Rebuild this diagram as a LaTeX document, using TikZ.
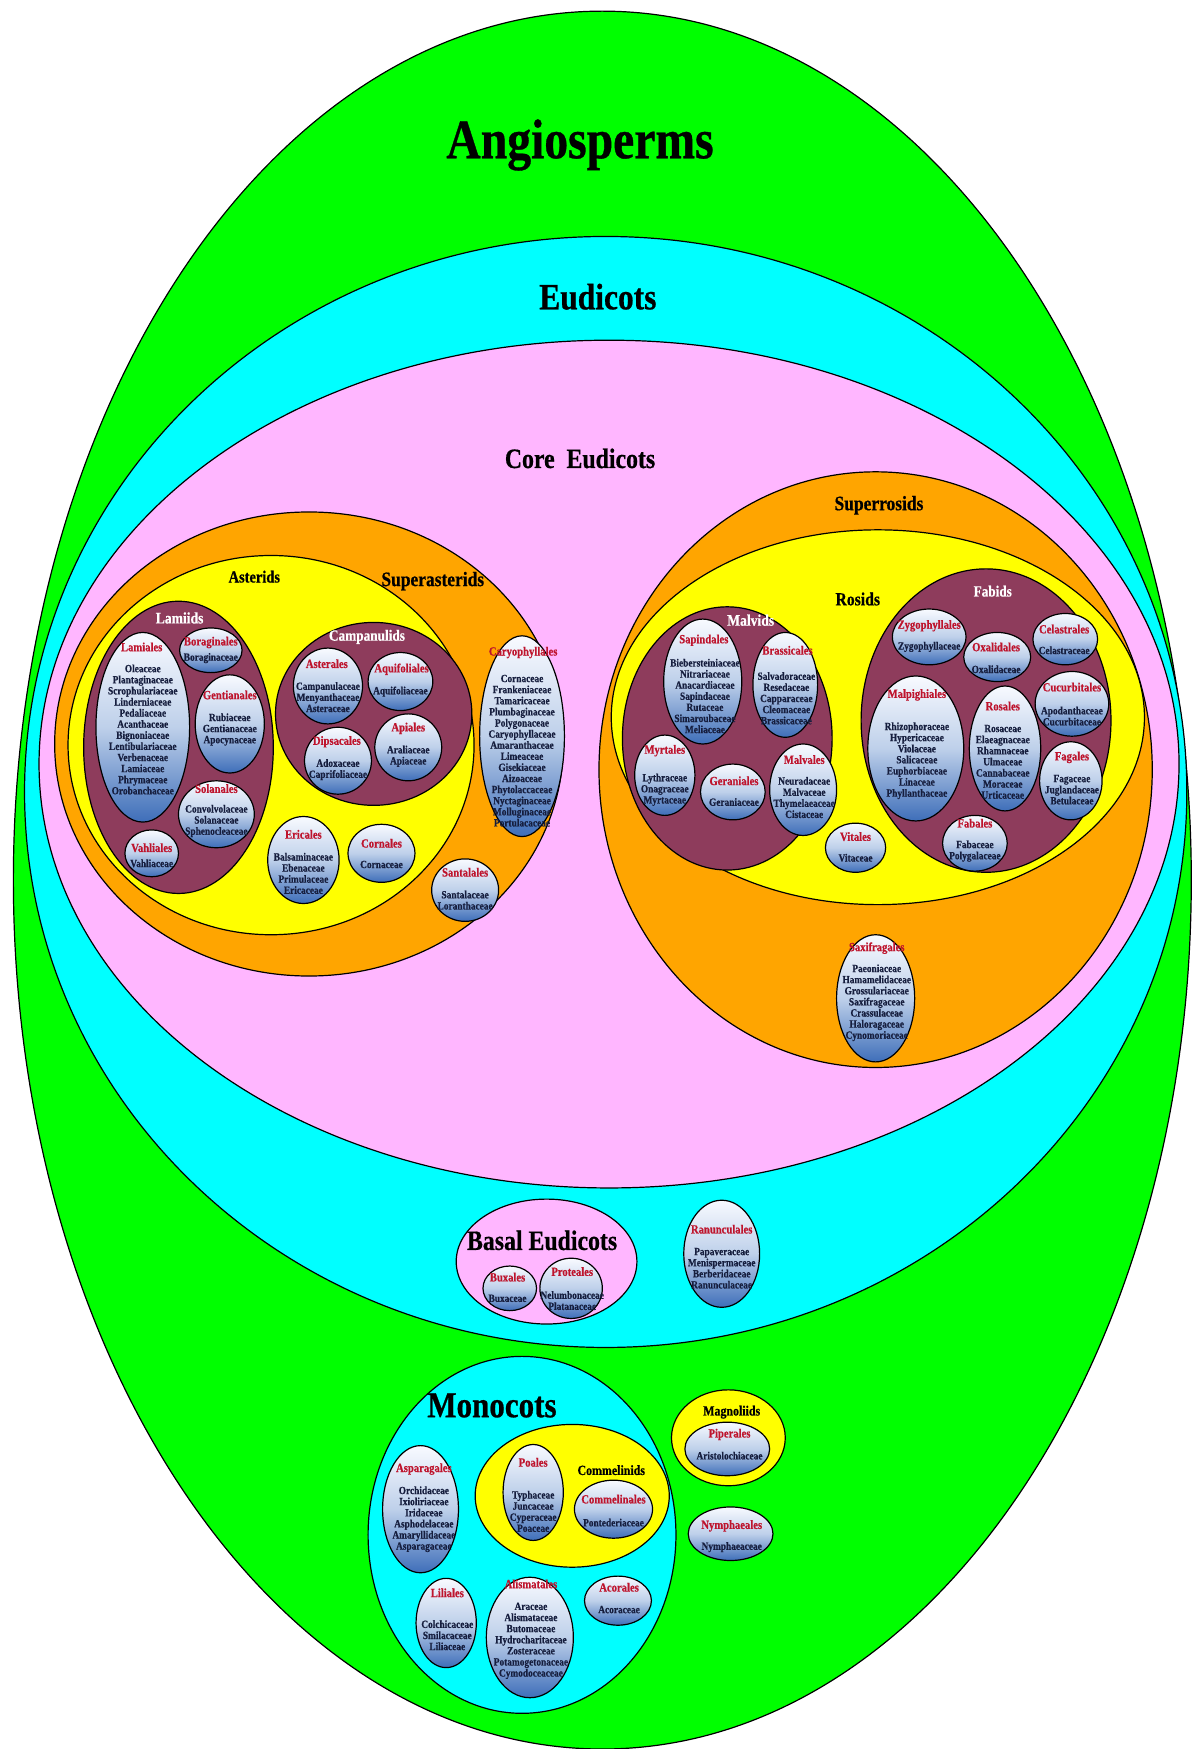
\documentclass[tikz,border=0pt]{standalone}
\usepackage{fontspec}
\newfontfamily\cf{Liberation Serif}[FakeStretch=0.85, BoldFeatures={FakeBold=0.6}]
\usetikzlibrary{shapes.geometric}
\definecolor{gA}{RGB}{0,255,0}
\definecolor{cA}{RGB}{0,255,255}
\definecolor{pA}{RGB}{255,182,255}
\definecolor{oA}{RGB}{255,165,0}
\definecolor{yA}{RGB}{255,255,0}
\definecolor{mA}{RGB}{142,60,92}
\definecolor{redA}{RGB}{190,20,45}
\definecolor{navyA}{RGB}{22,30,62}
\definecolor{shT}{RGB}{248,250,255}
\definecolor{shM}{RGB}{190,208,234}
\definecolor{shB}{RGB}{62,110,185}
\tikzset{
  grp/.style={ellipse, draw=black, line width=1.2pt, inner sep=0pt, outer sep=0pt},
  ov/.style 2 args={minimum width=#1*2.22984pt, minimum height=#2*2.22984pt},
  ord/.style={ellipse, draw=black, line width=1.2pt, inner sep=0pt, outer sep=0pt,
              top color=shT, bottom color=shB, middle color=shM},
  oname/.style={text=redA, font=\cf\bfseries\fontsize{12.5}{13}\selectfont, inner sep=0pt},
  fam/.style={text=navyA, font=\cf\bfseries\fontsize{11}{11.1}\selectfont, align=center, inner sep=0pt},
  lab/.style={inner sep=0pt, font=\cf\bfseries\fontsize{#1}{#1}\selectfont},
}
\begin{document}
\begin{tikzpicture}[x=1.11492pt, y=-1.11492pt]
\path[fill=white, use as bounding box] (0,0) rectangle (1079,1568);
% big groups
\node[grp, fill=gA, ov={528}{779}] (angio) at (540,789) {};
\node[grp, fill=cA, ov={521}{498}] (eud) at (543,710) {};
\node[grp, fill=pA, ov={511}{380}] (core) at (546,685) {};
\node[grp, fill=oA, ov={228}{208}] (supast) at (277,667) {};
\node[grp, fill=yA, ov={182}{170}] (ast) at (243,668) {};
\node[grp, fill=mA, ov={85}{131}] (lamiids) at (160,670) {};
\node[grp, fill=mA, ov={88}{82}] (campan) at (335,640) {};
\node[grp, fill=oA, ov={248}{267}] (supros) at (785,690) {};
\node[grp, fill=yA, ov={239}{168}] (rosids) at (787,643) {};
\node[grp, fill=mA, ov={94}{118}] (malvids) at (652,662) {};
\node[grp, fill=mA, ov={112}{136}] (fabids) at (884,646) {};
\node[grp, fill=pA, ov={81}{56}] (basal) at (490,1131) {};
\node[grp, fill=cA, ov={138}{160}] (mono) at (468,1376) {};
\node[grp, fill=yA, ov={87}{64}] (commel) at (513,1341) {};
\node[grp, fill=yA, ov={51}{43}] (magn) at (653,1289) {};
% group labels
\node[lab=56] (tAngio) at (520,130) {Angiosperms};
\node[lab=37] (tEud) at (536,266) {Eudicots};
\node[lab=28] (tCore) at (520,411) {Core\ \ Eudicots};
\node[lab=20.5] (tSupast) at (388,521) {Superasterids};
\node[lab=17] (tAst) at (228,517) {Asterids};
\node[lab=20.5] (tSupros) at (788,453) {Superrosids};
\node[lab=18.5] (tRos) at (769,537) {Rosids};
\node[lab=16, text=white] (tLam) at (161,554) {Lamiids};
\node[lab=15.6, text=white] (tCamp) at (329,571) {Campanulids};
\node[lab=16, text=white] (tMalv) at (673,556) {Malvids};
\node[lab=15.5, text=white] (tFab) at (890,530) {Fabids};
\node[lab=28] (tBasal) at (486,1112) {Basal Eudicots};
\node[lab=36.5] (tMono) at (441,1260) {Monocots};
\node[lab=14] (tComm) at (548,1318) {Commelinids};
\node[lab=14] (tMagn) at (656,1266) {Magnoliids};
% Lamiids orders
\node[ord, ov={42}{85}] (lamE) at (128,652) {};
\node[oname] (lamN) at (127,580) {Lamiales};
\node[fam] (lamF) at (128,654) {Oleaceae\\Plantaginaceae\\Scrophulariaceae\\Linderniaceae\\Pedaliaceae\\Acanthaceae\\Bignoniaceae\\Lentibulariaceae\\Verbenaceae\\Lamiaceae\\Phrymaceae\\Orobanchaceae};
\node[ord, ov={28}{20}] (borE) at (189,583) {};
\node[oname] (borN) at (189,576) {Boraginales};
\node[fam] (borF) at (189,590) {Boraginaceae};
\node[ord, ov={31}{44}] (genE) at (206,649) {};
\node[oname] (genN) at (206,623) {Gentianales};
\node[fam] (genF) at (206,654) {Rubiaceae\\Gentianaceae\\Apocynaceae};
\node[ord, ov={34}{30}] (solE) at (194,730) {};
\node[oname] (solN) at (194,707) {Solanales};
\node[fam] (solF) at (194,736) {Convolvolaceae\\Solanaceae\\Sphenocleaceae};
\node[ord, ov={24}{21}] (vahE) at (136,765) {};
\node[oname] (vahN) at (136,760) {Vahliales};
\node[fam] (vahF) at (136,774) {Vahliaceae};
% Campanulids orders
\node[ord, ov={31}{34}] (astE) at (294,615) {};
\node[oname] (astN) at (293,595) {Asterales};
\node[fam] (astF) at (294,625) {Campanulaceae\\Menyanthaceae\\Asteraceae};
\node[ord, ov={29}{26}] (aquE) at (359,611) {};
\node[oname] (aquN) at (360,600) {Aquifoliales};
\node[fam] (aquF) at (359,620) {Aquifoliaceae};
\node[ord, ov={30}{30}] (dipE) at (303,682) {};
\node[oname] (dipN) at (302,665) {Dipsacales};
\node[fam] (dipF) at (303,690) {Adoxaceae\\Caprifoliaceae};
\node[ord, ov={30}{30}] (apiE) at (366,670) {};
\node[oname] (apiN) at (366,653) {Apiales};
\node[fam] (apiF) at (366,678) {Araliaceae\\Apiaceae};
% other asterid orders
\node[ord, ov={32}{39}] (eriE) at (272,771) {};
\node[oname] (eriN) at (272,748) {Ericales};
\node[fam] (eriF) at (272,783) {Balsaminaceae\\Ebenaceae\\Primulaceae\\Ericaceae};
\node[ord, ov={30}{26}] (corE) at (342,765) {};
\node[oname] (corN) at (342,756) {Cornales};
\node[fam] (corF) at (342,775) {Cornaceae};
\node[ord, ov={30}{28}] (sanE) at (417,798) {};
\node[oname] (sanN) at (417,782) {Santalales};
\node[fam] (sanF) at (417,807) {Santalaceae\\Loranthaceae};
\node[ord, ov={38}{90}] (carE) at (468,660) {};
\node[oname] (carN) at (469,585) {Caryophyllales};
\node[fam] (carF) at (468,673) {Cornaceae\\Frankeniaceae\\Tamaricaceae\\Plumbaginaceae\\Polygonaceae\\Caryophyllaceae\\Amaranthaceae\\Limeaceae\\Gisekiaceae\\Aizoaceae\\Phytolaccaceae\\Nyctaginaceae\\Molluginaceae\\Portulacaceae};
% Malvids orders
\node[ord, ov={35}{56}] (sapE) at (630,611) {};
\node[oname] (sapN) at (631,574) {Sapindales};
\node[fam] (sapF) at (632,624) {Biebersteiniaceae\\Nitrariaceae\\Anacardiaceae\\Sapindaceae\\Rutaceae\\Simaroubaceae\\Meliaceae};
\node[ord, ov={29}{47}] (braE) at (704,614) {};
\node[oname] (braN) at (706,583) {Brassicales};
\node[fam] (braF) at (705,626) {Salvadoraceae\\Resedaceae\\Capparaceae\\Cleomaceae\\Brassicaceae};
\node[ord, ov={27}{36}] (myrE) at (596,695) {};
\node[oname] (myrN) at (596,673) {Myrtales};
\node[fam] (myrF) at (596,708) {Lythraceae\\Onagraceae\\Myrtaceae};
\node[ord, ov={29}{25}] (gerE) at (657,710) {};
\node[oname] (gerN) at (658,700) {Geraniales};
\node[fam] (gerF) at (658,719) {Geraniaceae};
\node[ord, ov={30}{41}] (malE) at (720,708) {};
\node[oname] (malN) at (721,681) {Malvales};
\node[fam] (malF) at (721,715) {Neuradaceae\\Malvaceae\\Thymelaeaceae\\Cistaceae};
\node[ord, ov={27}{22}] (vitE) at (767,760) {};
\node[oname] (vitN) at (767,750) {Vitales};
\node[fam] (vitF) at (767,769) {Vitaceae};
% Fabids orders
\node[ord, ov={33}{25}] (zygE) at (833,571) {};
\node[oname] (zygN) at (833,561) {Zygophyllales};
\node[fam] (zygF) at (833,580) {Zygophyllaceae};
\node[ord, ov={30}{22}] (oxaE) at (894,589) {};
\node[oname] (oxaN) at (893,580) {Oxalidales};
\node[fam] (oxaF) at (893,600) {Oxalidaceae};
\node[ord, ov={29}{23}] (celE) at (955,573) {};
\node[oname] (celN) at (954,564) {Celastrales};
\node[fam] (celF) at (954,583) {Celastraceae};
\node[ord, ov={43}{65}] (mlpE) at (821,671) {};
\node[oname] (mlpN) at (822,623) {Malpighiales};
\node[fam] (mlpF) at (822,682) {Rhizophoraceae\\Hypericaceae\\Violaceae\\Salicaceae\\Euphorbiaceae\\Linaceae\\Phyllanthaceae};
\node[ord, ov={32}{56}] (rosE) at (901,671) {};
\node[oname] (rosN) at (899,633) {Rosales};
\node[fam] (rosF) at (899,683) {Rosaceae\\Elaeagnaceae\\Rhamnaceae\\Ulmaceae\\Cannabaceae\\Moraceae\\Urticaceae};
\node[ord, ov={33}{29}] (cucE) at (961,631) {};
\node[oname] (cucN) at (961,616) {Cucurbitales};
\node[fam] (cucF) at (961,642) {Apodanthaceae\\Cucurbitaceae};
\node[ord, ov={28}{35}] (fagE) at (960,700) {};
\node[oname] (fagN) at (961,679) {Fagales};
\node[fam] (fagF) at (961,708) {Fagaceae\\Juglandaceae\\Betulaceae};
\node[ord, ov={29}{25}] (fabE) at (874,756) {};
\node[oname] (fabN) at (874,738) {Fabales};
\node[fam] (fabF) at (874,763) {Fabaceae\\Polygalaceae};
\node[ord, ov={35}{57}] (saxE) at (785,895) {};
\node[oname] (saxN) at (786,850) {Saxifragales};
\node[fam] (saxF) at (786,899) {Paeoniaceae\\Hamamelidaceae\\Grossulariaceae\\Saxifragaceae\\Crassulaceae\\Haloragaceae\\Cynomoriaceae};
% Basal eudicots
\node[ord, ov={24}{20}] (buxE) at (457,1155) {};
\node[oname] (buxN) at (455,1145) {Buxales};
\node[fam] (buxF) at (455,1164) {Buxaceae};
\node[ord, ov={28}{27}] (proE) at (512,1155) {};
\node[oname] (proN) at (513,1140) {Proteales};
\node[fam] (proF) at (513,1166) {Nelumbonaceae\\Platanaceae};
\node[ord, ov={34}{48}] (ranE) at (647,1124) {};
\node[oname] (ranN) at (647,1102) {Ranunculales};
\node[fam] (ranF) at (647,1137) {Papaveraceae\\Menispermaceae\\Berberidaceae\\Ranunculaceae};
% Monocots
\node[ord, ov={34}{57}] (aspE) at (377,1353) {};
\node[oname] (aspN) at (380,1317) {Asparagales};
\node[fam] (aspF) at (380,1362) {Orchidaceae\\Ixioliriaceae\\Iridaceae\\Asphodelaceae\\Amaryllidaceae\\Asparagaceae};
\node[ord, ov={27}{43}] (poaE) at (478,1338) {};
\node[oname] (poaN) at (478,1311) {Poales};
\node[fam] (poaF) at (478,1355) {Typhaceae\\Juncaceae\\Cyperaceae\\Poaceae};
\node[ord, ov={35}{26}] (comE) at (550,1353) {};
\node[oname] (comN) at (550,1344) {Commelinales};
\node[fam] (comF) at (550,1365) {Pontederiaceae};
\node[ord, ov={38}{24}] (pipE) at (652,1299) {};
\node[oname] (pipN) at (654,1286) {Piperales};
\node[fam] (pipF) at (654,1305) {Aristolochiaceae};
\node[ord, ov={38}{24}] (nymE) at (655,1375) {};
\node[oname] (nymN) at (656,1368) {Nymphaeales};
\node[fam] (nymF) at (656,1387) {Nymphaeaceae};
\node[ord, ov={27}{40}] (lilE) at (400,1455) {};
\node[oname] (lilN) at (401,1428) {Liliales};
\node[fam] (lilF) at (401,1466) {Colchicaceae\\Smilacaceae\\Liliaceae};
\node[ord, ov={39}{54}] (aliE) at (475,1468) {};
\node[oname] (aliN) at (476,1420) {Alismatales};
\node[fam] (aliF) at (476,1471) {Araceae\\Alismataceae\\Butomaceae\\Hydrocharitaceae\\Zosteraceae\\Potamogetonaceae\\Cymodoceaceae};
\node[ord, ov={30}{22}] (acoE) at (554,1435) {};
\node[oname] (acoN) at (555,1423) {Acorales};
\node[fam] (acoF) at (555,1443) {Acoraceae};
\end{tikzpicture}
\end{document}
